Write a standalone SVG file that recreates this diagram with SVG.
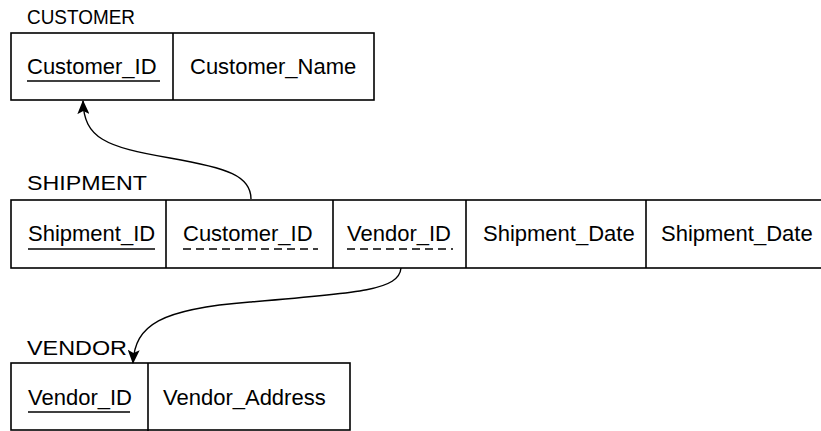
<svg xmlns="http://www.w3.org/2000/svg" width="821" height="431" viewBox="0 0 821 431">
<style>
.box{fill:none;stroke:#000;stroke-width:1.6}
.div{stroke:#000;stroke-width:1.6}
.t{font-family:"Liberation Sans",Arial,sans-serif;font-size:22px;fill:#000}
.lbl{font-family:"Liberation Sans",Arial,sans-serif;font-size:21px;fill:#000}
.ul{stroke:#000;stroke-width:1.5}
.dul{stroke:#000;stroke-width:1.5;stroke-dasharray:8 5}
.conn{fill:none;stroke:#000;stroke-width:1.4}
</style>
<defs>
<marker id="ah" viewBox="0 0 14 12" refX="13" refY="6" markerWidth="14" markerHeight="12" markerUnits="userSpaceOnUse" orient="auto">
<path d="M0,0 L14,6 L0,12 L3,6 Z" fill="#000"/>
</marker>
</defs>
<rect width="821" height="431" fill="#fff"/>
<g id="customer">
<text class="lbl" x="27" y="24" textLength="108" lengthAdjust="spacingAndGlyphs">CUSTOMER</text>
<rect class="box" x="11" y="33" width="363" height="67"/>
<line class="div" x1="173" y1="33" x2="173" y2="100"/>
<text class="t" x="27" y="74">Customer_ID</text>
<line class="ul" x1="27" y1="81" x2="160" y2="81"/>
<text class="t" x="190" y="74">Customer_Name</text>
</g>
<g id="shipment">
<text class="lbl" x="27" y="190" textLength="120" lengthAdjust="spacingAndGlyphs">SHIPMENT</text>
<rect class="box" x="11" y="200" width="815" height="68"/>
<line class="div" x1="166" y1="200" x2="166" y2="268"/>
<line class="div" x1="333" y1="200" x2="333" y2="268"/>
<line class="div" x1="466" y1="200" x2="466" y2="268"/>
<line class="div" x1="646" y1="200" x2="646" y2="268"/>
<text class="t" x="28" y="241">Shipment_ID</text>
<line class="ul" x1="28" y1="249" x2="155" y2="249"/>
<text class="t" x="183" y="241">Customer_ID</text>
<line class="dul" x1="183" y1="249" x2="318" y2="249"/>
<text class="t" x="347" y="241">Vendor_ID</text>
<line class="dul" x1="347" y1="249" x2="453" y2="249"/>
<text class="t" x="483" y="241">Shipment_Date</text>
<text class="t" x="661" y="241">Shipment_Date</text>
</g>
<g id="vendor">
<text class="lbl" x="27" y="355" textLength="100" lengthAdjust="spacingAndGlyphs">VENDOR</text>
<rect class="box" x="11" y="363" width="339" height="67"/>
<line class="div" x1="148" y1="363" x2="148" y2="431"/>
<text class="t" x="28" y="405">Vendor_ID</text>
<line class="ul" x1="28" y1="412" x2="130" y2="412"/>
<text class="t" x="163" y="405">Vendor_Address</text>
</g>
<g id="connectors">
<path class="conn" d="M251,199 C251,176 228,168 170,158 C105,147 84,138 83,101" marker-end="url(#ah)"/>
<path class="conn" d="M401,268 C399,290 360,293 250,302 C160,309 135,325 133,363" marker-end="url(#ah)"/>
</g>
</svg>
